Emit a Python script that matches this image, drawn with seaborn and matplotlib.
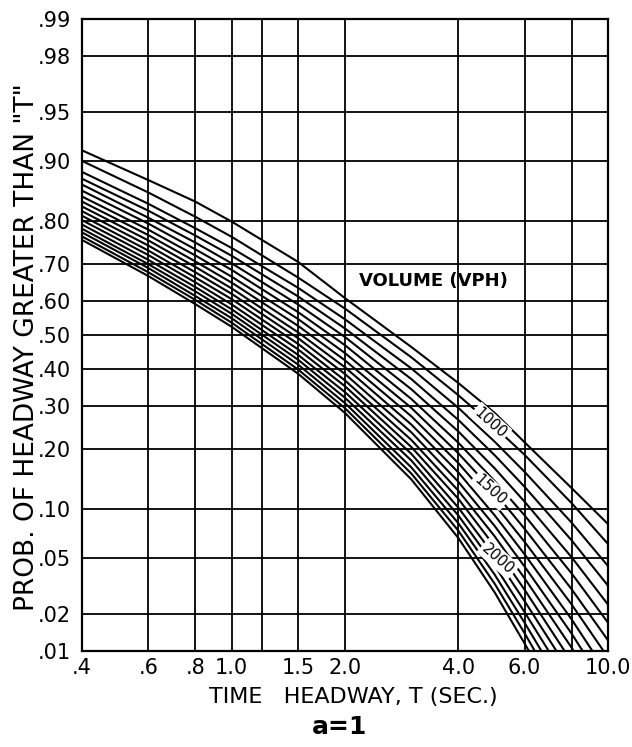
import numpy as np
import pandas as pd
import matplotlib
matplotlib.use("Agg")
import matplotlib.pyplot as plt
import seaborn as sns
from statistics import NormalDist

# ---------------- data ----------------
x_sec = [0.4, 0.6, 0.8, 1.0, 1.5, 2.0, 3.0, 4.0, 5.0, 6.0, 8.0, 10.0]

p900  = [.913, .873, .837, .798, .705, .607, .465, .362, .283, .215, .130, .082]
p1000 = [.900, .853, .808, .765, .664, .577, .435, .329, .249, .189, .108, .062]
p1100 = [.885, .833, .784, .739, .636, .546, .403, .296, .216, .157, .0837, .0445]
p1200 = [.875, .820, .768, .720, .612, .519, .373, .266, .188, .132, .0654, .0325]
p1300 = [.866, .806, .752, .701, .589, .494, .345, .239, .163, .110, .0510, .0236]
p1400 = [.856, .794, .736, .684, .567, .470, .319, .214, .141, .0922, .0397, .0171]
p1500 = [.846, .781, .721, .666, .547, .447, .296, .192, .123, .0769, .0307, .0123]
p1600 = [.837, .769, .706, .650, .527, .426, .275, .173, .106, .0640, .0237, .0088]
p1700 = [.828, .757, .692, .634, .508, .406, .255, .156, .0921, .0533, .0182, .0062]
p1800 = [.819, .745, .678, .619, .491, .387, .237, .140, .0798, .0442, .0140, .0044]
p1900 = [.810, .733, .664, .604, .474, .369, .220, .126, .0691, .0367, .0107, .0031]
p2000 = [.801, .722, .651, .589, .458, .353, .205, .114, .0598, .0304, .0081, .0022]
p2100 = [.792, .710, .638, .575, .442, .337, .191, .102, .0518, .0251, .0062, .0015]
p2200 = [.783, .699, .626, .562, .428, .322, .178, .0921, .0448, .0207, .0047, .0011]
p2300 = [.775, .689, .613, .549, .414, .308, .165, .0830, .0388, .0171, .0035, .0007]
p2400 = [.766, .678, .602, .536, .400, .295, .154, .0749, .0335, .0141, .0026, .0005]
p2500 = [.758, .668, .590, .524, .388, .283, .144, .0676, .0290, .0116, .0020, .0003]

volumes = [900, 1000, 1100, 1200, 1300, 1400, 1500, 1600, 1700, 1800,
           1900, 2000, 2100, 2200, 2300, 2400, 2500]
curves = [p900, p1000, p1100, p1200, p1300, p1400, p1500, p1600, p1700, p1800,
          p1900, p2000, p2100, p2200, p2300, p2400, p2500]

y_ticks = [.01, .02, .05, .10, .20, .30, .40, .50, .60, .70, .80, .90, .95, .98, .99]
y_labels = [".01", ".02", ".05", ".10", ".20", ".30", ".40", ".50", ".60", ".70",
            ".80", ".90", ".95", ".98", ".99"]
x_ticks = [0.4, 0.6, 0.8, 1.0, 1.2, 1.5, 2.0, 4.0, 6.0, 8.0, 10.0]
x_labels = [".4", ".6", ".8", "1.0", "", "1.5", "2.0", "4.0", "6.0", "", "10.0"]

curve_labels = ["1000", "1500", "2000"]
curve_label_x = [4.87, 4.87, 5.11]
curve_label_p = [0.259, 0.127, 0.0497]

# ---------------- build long table ----------------
rows = []
for v, ps in zip(volumes, curves):
    for x, p in zip(x_sec, ps):
        rows.append({"T": x, "P": p, "Volume": str(v)})
df = pd.DataFrame(rows)

# ---------------- style ----------------
sns.set_theme(style="white")
plt.rcParams["font.family"] = ["DejaVu Sans"]

fig = plt.figure(figsize=(6.32, 7.47), dpi=100)
ax = fig.add_axes([82 / 632, 1 - 651 / 747, 526 / 632, 632 / 747])

_nd = NormalDist()
_ppf = np.vectorize(lambda p: _nd.inv_cdf(min(max(float(p), 1e-9), 1 - 1e-9)),
                    otypes=[float])
_cdf = np.vectorize(lambda z: _nd.cdf(float(z)), otypes=[float])


def fwd(p):
    return _ppf(np.asarray(p, dtype=float))


def inv(z):
    return _cdf(np.asarray(z, dtype=float))


ax.set_xscale("log")
ax.set_yscale("function", functions=(fwd, inv))

sns.lineplot(data=df, x="T", y="P", hue="Volume", units="Volume", estimator=None,
             palette=["black"] * len(volumes), legend=False, linewidth=1.5,
             sort=True, ax=ax)

ax.set_xlim(0.4, 10.0)
ax.set_ylim(0.01, 0.99)

ax.set_xticks(x_ticks)
ax.set_xticklabels(x_labels)
ax.xaxis.set_minor_locator(matplotlib.ticker.NullLocator())
ax.set_yticks(y_ticks)
ax.set_yticklabels(y_labels)
ax.yaxis.set_minor_locator(matplotlib.ticker.NullLocator())

ax.grid(True, color="black", linewidth=1.3)
ax.tick_params(axis="both", length=0, labelsize=15, colors="black")
ax.tick_params(axis="y", pad=8)
ax.tick_params(axis="x", pad=5)
for s in ax.spines.values():
    s.set_color("black")
    s.set_linewidth(1.6)
    s.set_visible(True)

ax.set_xlabel("")
ax.set_ylabel("")

fig.text(27 / 632, 1 - 347 / 747, 'PROB. OF HEADWAY GREATER THAN "T"',
         rotation=90, ha="center", va="center", fontsize=19, color="black")
fig.text(353 / 632, 1 - 697 / 747, "TIME   HEADWAY, T (SEC.)",
         ha="center", va="center", fontsize=16, color="black")
fig.text(340 / 632, 1 - 727 / 747, "a=1",
         ha="center", va="center", fontsize=18, fontweight="bold", color="black")

ax.text(3.43, 0.654, "VOLUME (VPH)", ha="center", va="center", fontsize=13,
        fontweight="bold", color="black")

for lab, lx, lp in zip(curve_labels, curve_label_x, curve_label_p):
    ax.text(lx, lp, lab, rotation=-42, ha="center", va="center", fontsize=10.5,
            color="black", rotation_mode="anchor",
            bbox=dict(boxstyle="square,pad=0.15", fc="white", ec="none"))

fig.savefig("out.png", dpi=100, facecolor="white")
